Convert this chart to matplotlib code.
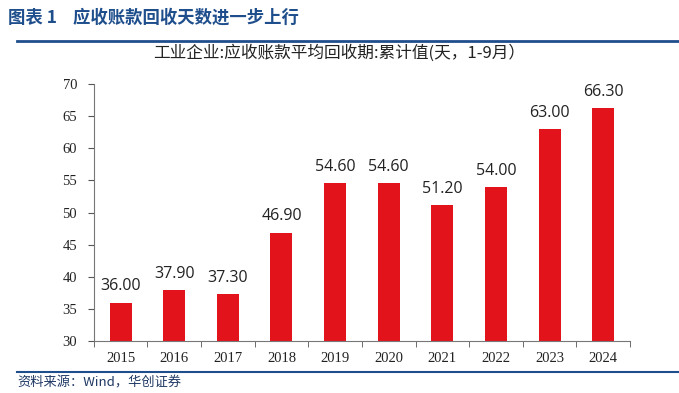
import numpy as np
import matplotlib.pyplot as plt
import matplotlib

matplotlib.rcParams['font.family'] = ['Noto Sans CJK SC', 'DejaVu Sans']

years = ['2015', '2016', '2017', '2018', '2019', '2020', '2021', '2022', '2023', '2024']
days = [36.00, 37.90, 37.30, 46.90, 54.60, 54.60, 51.20, 54.00, 63.00, 66.30]

blue = '#1f4e8c'
red = '#e3131b'

fig = plt.figure(figsize=(6.79, 3.93), dpi=100, facecolor='white')

# header and footer
fig.text(0.012, 0.955, '图表 1    应收账款回收天数进一步上行', color=blue,
         fontsize=12.5, fontweight='bold', va='center', ha='left')
fig.add_artist(plt.Line2D([0.025, 0.998], [0.895, 0.895], color=blue, linewidth=2))
fig.add_artist(plt.Line2D([0.025, 0.998], [0.053, 0.053], color=blue, linewidth=1.5))
fig.text(0.025, 0.025, '资料来源：Wind，华创证券', color='#1f3864',
         fontsize=9.5, style='italic', va='center', ha='left')

fig.text(0.5, 0.865, '工业企业:应收账款平均回收期:累计值(天，1-9月）', color='#222222',
         fontsize=12, fontweight='medium', va='center', ha='center')

ax = fig.add_axes([0.138, 0.132, 0.79, 0.654])
x = np.arange(len(years))
bars = ax.bar(x, days, width=0.41, color=red, bottom=0)
ax.set_ylim(30, 70)
ax.set_xlim(-0.5, len(years) - 0.5)
ax.set_yticks(np.arange(30, 71, 5))
ax.set_xticks(x)
ax.set_xticklabels(years)
ax.set_xticks(np.arange(-0.5, len(years), 1), minor=True)
ax.tick_params(axis='x', which='major', length=0, pad=8)
ax.tick_params(axis='x', which='minor', length=4, color='#555555', direction='out')
ax.tick_params(axis='y', length=4, color='#555555', direction='out', pad=8)
for lab in ax.get_xticklabels() + ax.get_yticklabels():
    lab.set_family('Liberation Serif')
    lab.set_fontsize(10.5)
    lab.set_color('#222222')
for s in ['top', 'right']:
    ax.spines[s].set_visible(False)
for s in ['left', 'bottom']:
    ax.spines[s].set_color('#777777')
    ax.spines[s].set_linewidth(0.8)

for xi, v in zip(x, days):
    ax.text(xi, v + 1.3, '%.2f' % v, ha='center', va='bottom',
            fontsize=11.5, family='Open Sans', color='#222222')

plt.savefig('out.png', dpi=100)
